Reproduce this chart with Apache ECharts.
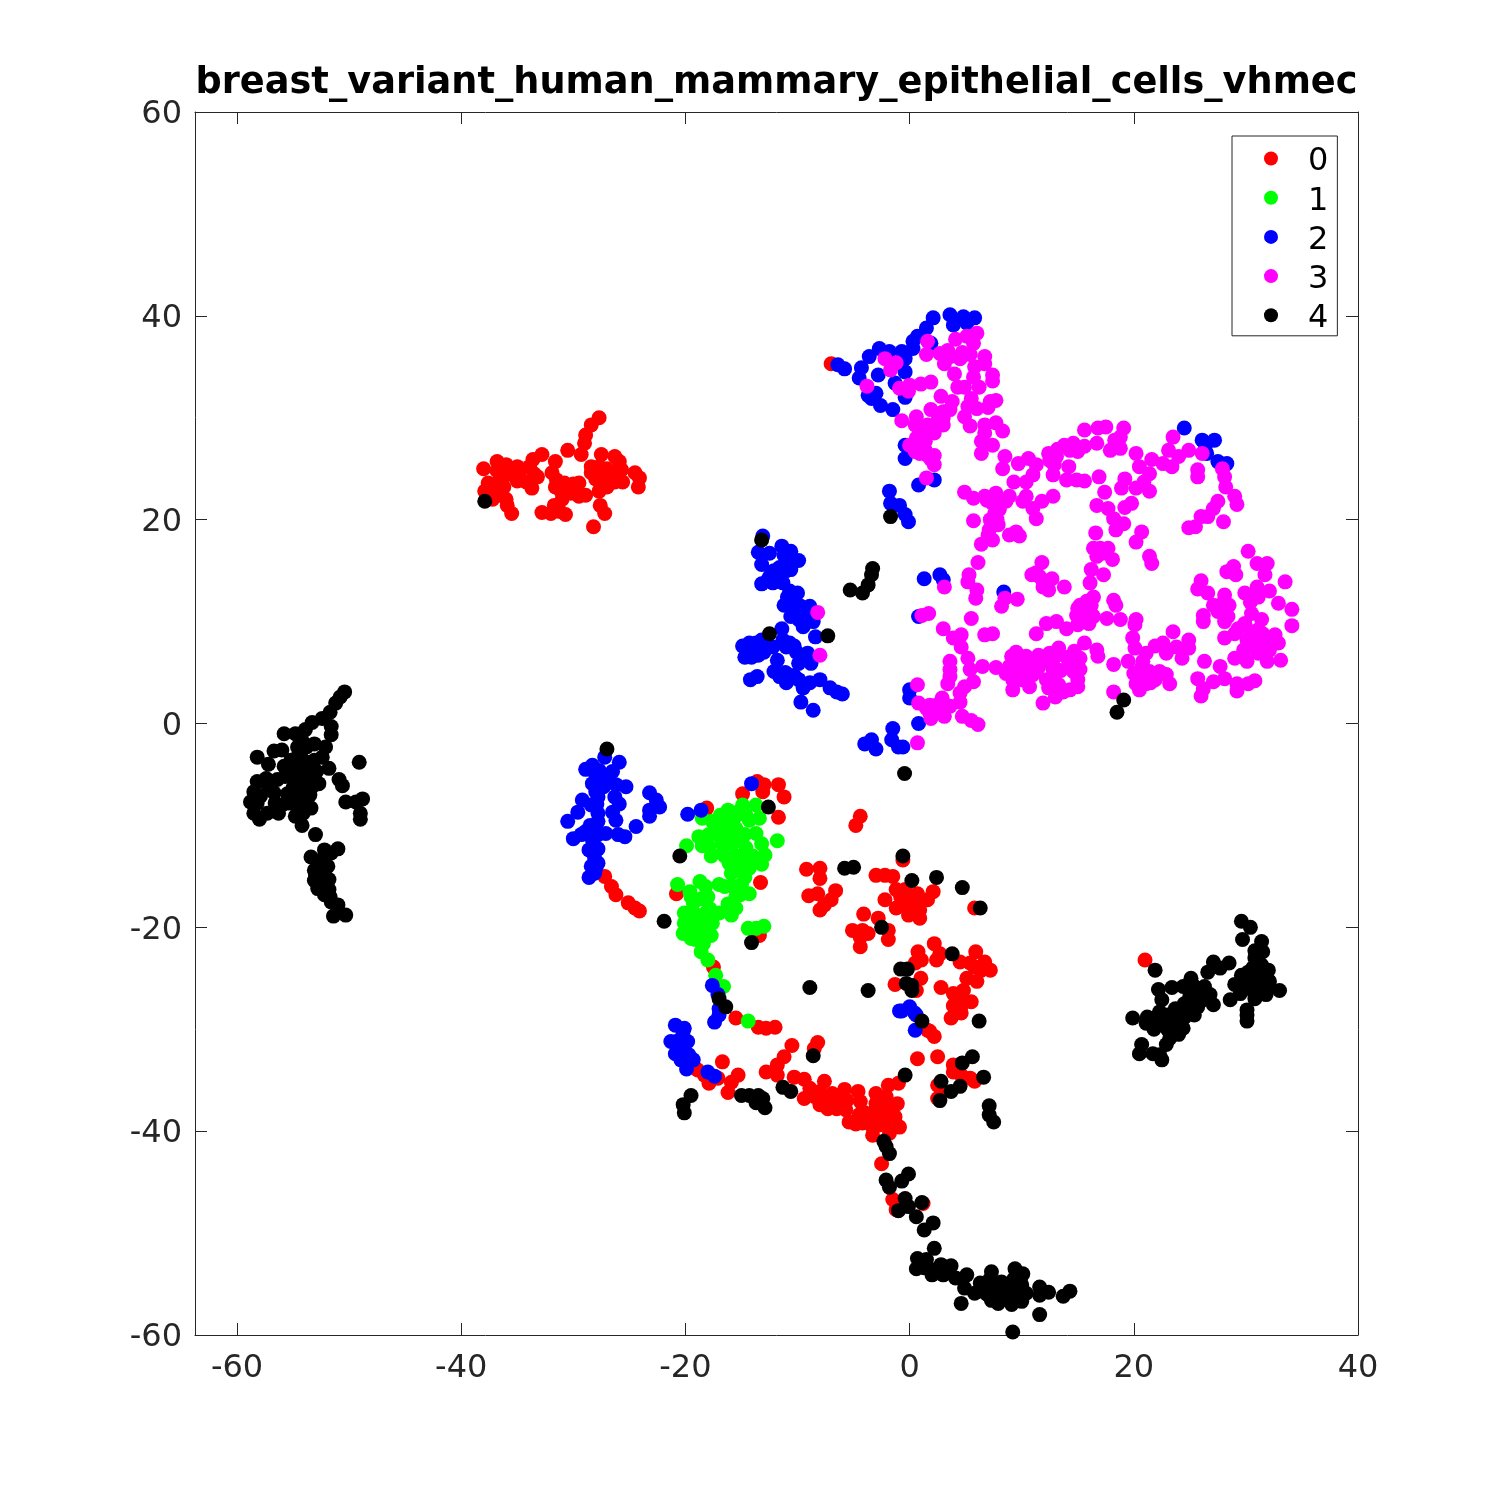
<!DOCTYPE html>
<html>
<head>
<meta charset="utf-8">
<style>html,body{margin:0;padding:0;background:#fff}#c{width:1500px;height:1500px}</style>
<script src="https://cdn.jsdelivr.net/npm/echarts@6/dist/echarts.min.js"></script>
</head>
<body>
<div id="c"></div>
<script>
const titleText = "breast_variant_human_mammary_epithelial_cells_vhmec";
const classNames = ["0","1","2","3","4"];
const classColors = ["#ff0000","#00ff00","#0000ff","#ff00ff","#000000"];
const xTicks = [-60,-40,-20,0,20,40];
const yTicks = [-60,-40,-20,0,20,40,60];

const class0 = [
[-7,35.3],
[-27.7,30],[-28.4,29.3],[-28.9,28.3],[-29,27.5],[-30.5,26.8],[-29.3,26.4],[-32.8,26.4],[-33.6,25.9],[-36.8,25.7],[-38,25],[-36,25.4],[-35,25.2],[-33.9,25.2],[-31.6,25.7],[-31.9,24.6],[-27.5,26.4],[-26.3,26.2],[-25.9,25.7],[-28.4,25.2],[-27.7,25.2],[-26.6,24.6],[-25.7,24.9],[-28.4,24.6],[-24.5,24.6],[-24.1,24.1],[-24.2,23.2],[-25.6,23.7],[-26.3,23.7],[-27.5,23.7],[-27.7,22.8],[-33.2,24.2],[-34.2,23.7],[-33.7,23.1],[-35.3,24.4],[-36.2,24.2],[-36.8,23.6],[-37.6,23.6],[-37.9,22.8],[-37.2,22],[-36.8,22.8],[-36,22],[-35.9,21.4],[-35.5,20.6],[-31.5,23.9],[-30.8,23.6],[-31.6,23.2],[-29.5,23.6],[-30.2,22.6],[-29.5,22.3],[-28.9,22.4],[-31.1,22.8],[-31.7,21.4],[-32.8,20.7],[-32,20.6],[-31.2,20.8],[-30.7,20.5],[-27.6,21.4],[-27.2,20.6],[-28.2,19.3],
[-27,25],[-35,23.8],[-33.5,24.5],[-30.5,23.2],[-31,22],[-30,23.5],[-27.2,24.3],[-36.2,23.2],[-34.7,24.9],[-36.8,24.8],[-27,23.2],[-28,24],[-26,24.1],
[-13.6,-5.7],[-13,-6],[-13.1,-6.7],[-11.7,-6],[-11.2,-7.2],[-14.9,-6.9],[-18.1,-8.3],[-11.7,-9.2],[-13.3,-15.6],[-20.8,-16.7],[-27.2,-15],[-26.6,-16],[-26.2,-16.8],[-25.1,-17.6],[-24.5,-18.1],[-24.1,-18.4],[-13.4,-20.8],[-17.5,-23.9],[-15.5,-28.9],[-13.5,-29.8],[-12.8,-29.9],[-12,-29.8],
[-10.5,-31.6],[-8.2,-31.3],[-8.5,-31.9],[-11.2,-32.7],[-11.8,-33.5],[-12.8,-34.2],[-11.8,-34.5],[-16.7,-33.2],[-15.3,-34.5],[-15.9,-35.2],[-16.2,-36.2],[-18.9,-34],[-18.3,-34.5],[-17.9,-35.3],[-17.1,-34.8],[-10.3,-34.7],[-9.4,-34.9],[-8.9,-35.8],[-7.6,-35.1],[-8,-36.1],[-9.4,-36.8],[-8.5,-36.6],[-8,-37.4],[-7.3,-37.8],[-6.7,-37.1],[-6.1,-36.9],[-5.8,-35.9],[-4.6,-36.1],[-4.4,-37.1],[-3,-36.3],[-1.9,-35.5],[-1,-35.3],[-2.1,-36.6],[-1.1,-37.3],[-3,-37.3],[-5.7,-37.9],[-5.4,-39.1],[-4.5,-38.4],[-3.7,-38.4],[-2.8,-38.4],[-2.1,-38.3],[-1.3,-38.6],[-4.2,-39.2],[-3.3,-39.6],[-2.7,-39.4],[-0.9,-39.6],[-1.8,-40.2],[-3.3,-40.4],[-2.5,-43.2],[-1.5,-46.7],[-1.2,-47.7],[1.2,-47.1],[1.8,-30.2],[2.2,-30.7],[0.7,-32.9],[2.5,-32.7],[3.9,-33.5],[3.9,-34.2],[4.6,-34.5],[5.8,-35.1],[5.4,-34.8],[2.5,-35.5],[3,-36.1],[2.5,-36.8],
[-7.5,-36.7],[-6.9,-36.3],[-5.6,-37],[-4,-38.2],[-3,-38.9],[-2,-39],[-3,-37.9],[-4,-39],[-1.5,-37.6],[-2.5,-36.9],[-2,-37.7],[-8.8,-36.2],[-7.3,-36.9],[-4.8,-39.3],[-6.5,-37.8],
[-4.4,-9.1],[-4.8,-10],[-9.2,-14.3],[-8,-14.2],[-8,-15.2],[-9,-16.9],[-8.2,-16.7],[-6.6,-16.4],[-7,-17.3],[-8,-18.3],[-3,-14.9],[-2.2,-14.9],[-1.5,-15],[-2.2,-17.3],[-1.2,-16.3],[-0.4,-16.3],[-1.2,-18.1],[-0.3,-17.3],[0.7,-16.7],[2.1,-16.5],[1.6,-17.3],[-0.1,-18.8],[0.9,-19.1],[0.9,-18.3],[-4.1,-18.7],[-2.8,-19.1],[-5.1,-20.3],[-3.7,-20.6],[-4.4,-21.9],[-1.9,-21.2],[-1.9,-20.3],[0.75,-22.4],[1.05,-23.2],[0.5,-23.5],[2.2,-21.6],[2.7,-22.6],[2.4,-23.2],[4.5,-23.4],[5.4,-23.5],[5.9,-22.4],[6.7,-23.4],[7.2,-24.2],[6.4,-24.2],[5.1,-25],[6,-25.3],[2.8,-25.9],[3.9,-26.5],[4.8,-26.2],[5.5,-27.3],[4.2,-27.3],[4.6,-28.4],[3.7,-28.9],[5.8,-18.1],[-1.3,-25.6],[1,-25],[0.6,-26.2],[1.6,-30.1],[-0.6,-13.4],
[0.2,-17.8],[-0.8,-17],[1,-17.5],[-0.6,-17.8],[5.8,-23.9],[4.5,-27],[4.5,-26.5],[3.9,-27.7],[4.6,-27.7],[-4.2,-20.3],[-4.4,-21],[-7.6,-17.8],
[21,-23.2]
];

const class1 = [
[-16.2,-8.5],[-14.9,-8],[-13.7,-8],[-15.2,-8.6],[-13.4,-9.3],[-18.5,-9.3],[-17.6,-9.6],[-16.4,-9.6],[-14.3,-9.5],[-17,-10.3],[-15.5,-10.3],[-18.8,-11.1],[-17.9,-10.9],[-13.7,-10.8],[-14.7,-10.9],[-11.8,-11.5],[-19.9,-12],[-17.9,-12.1],[-16.7,-11.8],[-15.8,-11.8],[-14.6,-12.2],[-13.2,-11.8],[-12.9,-12.9],[-17.7,-13],[-16.7,-12.7],[-15.5,-13],[-14.7,-13.2],[-13.2,-13.8],[-16.1,-13.7],[-14.3,-14.2],[-15.9,-14.7],[-14.7,-15.1],[-15.8,-16],[-14.3,-16.7],[-20.7,-15.8],[-18.7,-15.5],[-18.2,-16],[-17,-15.8],[-19.6,-16.5],[-18,-17],[-15.5,-17],[-19.3,-17.6],[-15.5,-18.1],[-15.9,-18.8],[-17,-18.6],[-20.1,-18.6],[-18.1,-18.5],[-19,-18.8],[-20.1,-19.6],[-17.6,-19.6],[-18.7,-19.6],[-20.2,-20.6],[-19.5,-21.1],[-18.7,-20.6],[-17.7,-20.8],[-19.1,-21.2],[-18.4,-21.6],[-14.4,-20.1],[-13.7,-20.1],[-13,-19.9],[-18.6,-22.4],[-18,-23.2],[-17.3,-24.7],[-16.6,-25.8],[-14.4,-29.2],
[-16,-10.8],[-15,-11.5],[-16.5,-13],[-15.2,-14],[-14,-13],[-16.9,-9],[-15.6,-9.2],[-14.6,-9],[-17,-11],[-18.5,-12],[-19.7,-19],[-19,-20],[-18,-19],[-19.5,-17],[-18.6,-17.2],[-17.8,-18.2],[-19.7,-20],[-18.2,-19.6],[-16.5,-16],[-15,-15.8],[-15.1,-16.8],[-16.2,-17.7]
];

const class2 = [
[2.1,39.8],[3.6,40.1],[3.9,39.1],[4.8,39.9],[5.1,39.3],[5.8,39.8],[1.5,38.8],[0.7,38],[0.3,37.5],[0.3,36.8],[1.9,37.3],[-2.7,36.8],[-3.6,36],[-0.7,36.5],[-0.4,35.8],[-1.8,36.5],[-4.3,34.9],[-2.8,34.2],[-0.4,34.5],[-4.5,33.9],[-1.3,33.4],[-3.7,32.2],[-3.4,31.9],[-3,32.4],[-0.4,32],[-2.6,31.2],[-1.5,30.8],[-6.4,35.2],[-5.8,34.8],[-0.4,27.3],[-0.4,26],[24.5,29],[26.1,27.8],[27.2,27.8],[26.4,27.3],[26.5,26.5],[27.5,25.7],[28.3,25.5],[-1.8,22.8],[-1.7,21.6],[-0.9,21.4],[-0.4,20.5],[-0.1,19.8],[0.8,23.4],[2.2,23.9],[1.3,14.2],[2.7,14.6],[3,14.1],[8.4,12.9],[0.8,10.5],[0,3.3],[0,2.5],[0.8,0],[-1.5,-0.5],[-1.6,-1.6],[-3.4,-1.6],[-4,-2],[-0.6,-2.3],[-3,-2.5],[-1,-2.3],
[-13.1,18.4],[-13.5,16.8],[-12.5,16.7],[-11.4,17.4],[-10.6,16.9],[-11.2,16.5],[-9.9,16],[-13.2,15.6],[-10.9,15.7],[-12.3,14.7],[-10.6,15.1],[-11.6,14.4],[-13.2,13.7],[-12.2,13.8],[-11.3,13.8],[-10.7,13],[-10,12.8],[-11.2,11.6],[-10.4,12.1],[-9.7,11.5],[-8.9,11.5],[-10.6,10.5],[-9.5,9.5],[-8.6,10],[-8.4,8.5],[-11.4,9.3],[-11.3,8.2],[-12.2,7.5],[-13.2,8.2],[-14.3,7.9],[-14.9,7.6],[-13.4,7.4],[-13.5,6.7],[-14.7,6.5],[-14.1,6.5],[-10.7,7.9],[-10.1,7],[-9.1,6.9],[-9.9,5.9],[-8.8,5.9],[-11.8,6.2],[-13.6,4.6],[-14.2,4.3],[-12.1,5.1],[-11,4.9],[-11.6,4.6],[-11,4],[-9.9,4.3],[-8.9,4],[-8,4.3],[-9.5,3.5],[-9.7,2.1],[-7.1,3.5],[-6.5,3.1],[-6,2.9],[-8.6,1.3],
[-12.1,15],[-11.6,15.3],[-11,15],[-12.5,14.4],[-12.7,14],[-10.9,12.4],[-10.5,11.2],[-9.9,10.8],[-9.2,10.5],[-9.9,10.2],[-10.4,11.5],[-13.7,7.9],[-14.4,6.9],[-13,7],[-11,7.5],[-10.3,7.6],[-11.1,5],[-10.3,4.7],
[-27.2,-3.3],[-25.9,-3.8],[-28.3,-4.1],[-28.9,-4.5],[-27.7,-4.6],[-26.5,-4.7],[-28.3,-5.9],[-27.5,-5.7],[-25.3,-6.2],[-26.2,-6],[-23.2,-6.8],[-29.2,-7.5],[-28.4,-8],[-27.8,-7.2],[-26.3,-7.2],[-25.9,-7.9],[-22.6,-7.5],[-22.3,-8.2],[-23.2,-9.1],[-23.2,-8.5],[-29.6,-8.7],[-30.5,-9.6],[-27.8,-8.8],[-26.5,-8.7],[-26.2,-9.5],[-27.8,-9.6],[-24.4,-10.1],[-28.9,-10.6],[-30,-11.3],[-29.3,-10.9],[-27.1,-10.8],[-26,-10.9],[-25.4,-11.1],[-28.3,-11.4],[-27.8,-12.3],[-28.6,-12.4],[-28.1,-13.2],[-28.4,-14],[-28,-14.2],[-28.6,-15.1],[-19.8,-8.9],[-18.6,-8.5],[-14.1,-5.9],[-17.6,-25.7],[-17.1,-26.6],[-17,-28],[-17,-28.6],[-17.4,-29.3],
[-28,-5],[-27.4,-5],[-27,-5.4],[-28,-6.7],[-27.3,-6.2],[-27.9,-7.9],[-28,-10.6],[-28.5,-10],[-27.8,-10.9],[-28.2,-12.7],[-27.8,-13.7],[-28.1,-14.7],
[-20.9,-29.6],[-20.2,-30.2],[-19.8,-31.2],[-21.3,-31.2],[-20.4,-31.2],[-20.9,-32.4],[-20.1,-32.5],[-19.3,-33],[-19.9,-33.9],[-18,-34.2],[-17.4,-34.6],[-0.7,-28.2],[0,-27.8],[0.6,-28.6],[0.5,-30.1],[-0.9,-28.2],[0.45,-28.4],
[-20.5,-31],[-20.6,-32],[-20.4,-33],[-19.7,-32.5],[-20.1,-29.9]
];

const class3 = [
[1.6,37.5],[4.1,37.7],[5.1,38],[6,38.3],[5.7,37.3],[1.5,36.2],[2.7,36.3],[3.6,36],[4.5,35.8],[5.4,36.2],[6.7,36],[3.1,35.3],[4,34.3],[5.8,35],[6.7,35.3],[5.7,34],[7.4,34.2],[7.4,33.6],[6.2,33],[4.9,33],[5.5,31.9],[2.8,32.1],[1.9,33.5],[1,33.3],[0,33.2],[-0.9,32.9],[-0.1,32.6],[-2.2,35.8],[-1.2,35.4],[-1.7,34.7],[-3.8,33.1],[7.7,31.7],[7.2,31.6],[7,31],[6,30.9],[5.2,31.1],[3.8,31.6],[1.9,30.8],[3,30.6],[3.6,30.8],[4.9,30.1],[5.4,29.2],[-0.7,29.7],[0.6,30.1],[0.5,29.3],[1.6,29.3],[3,29.3],[2.2,28.5],[1.4,28.8],[6.7,29.3],[7.7,29.5],[8.3,28.7],[6.7,28.5],[6.4,27.7],[7.4,27.3],[6.4,26.5],[8.5,26.2],[8.3,25],[0,27.3],[1.4,27.7],[0.6,28],[0.5,26.7],[1.6,26.3],[2.2,26.3],[2.2,25.4],[1.5,24.1],
[4.3,33],[3,30],[2.5,29.7],[2.2,29.2],[1,28.9],[0.8,27.2],[0.9,26.5],[1.4,26.8],[1.9,25.9],[3.4,36.6],[4.7,36.4],
[9.7,25.5],[10.6,26],[11.3,25.4],[11,24.4],[10.4,23.7],[9.3,23.7],[12.4,26.5],[13.1,26.2],[13.8,27.3],[14.6,27.5],[14.3,26.8],[15.6,27.2],[15,26.7],[14.2,25.2],[12.8,24.4],[14,23.9],[14.9,23.9],[15.6,23.8],[16.9,24.2],[15.6,28.8],[16.8,29],[17.5,29.1],[19.1,29],[16.7,27.5],[18.3,27.8],[18.8,28.1],[17.9,26.8],[18.8,27],[20.2,26.5],[21.6,25.9],[20.5,25.2],[22.6,25.5],[23.4,25.2],[21.4,24.5],[20.9,23.7],[20.2,23.1],[21.4,22.8],[19.2,24],[18.9,23.1],[23.5,28.1],[23.1,26.8],[24,26.2],[24.9,26.8],[26.1,26.5],[25.7,24.9],[25.7,24.2],[27.9,25],[28.1,24.2],[28.2,23.2],[29,22.3],[29.2,21.5],[27.5,21.8],[27.1,21.1],[26,20.3],[28,19.8],[24.9,19.2],[25.5,19.3],[26.6,20.3],
[13.2,26.9],[12.9,25.4],[12.5,25.8],
[4.9,22.7],[5.7,22.1],[6.7,22.3],[7.7,22.6],[7.4,21.6],[8.9,22.3],[8.6,21.8],[7.6,20.6],[5.7,19.9],[7.9,19.5],[7.1,19],[7.4,18],[6.4,17.6],[8.9,18.5],[9.5,18.8],[9.8,18.4],[10.4,22.3],[10.1,21.8],[11,21.1],[11.8,21.8],[11.3,20.1],[12.8,22.3],[17.4,22.7],[16.7,21.4],[17.7,21.1],[18.2,20.1],[18.4,19],[19.1,19.6],[19.2,21.2],[19.8,21.6],[20.7,18.8],[20.2,17.8],[16.6,18.7],[16.4,17.2],[17,17.2],[17.7,17.2],[16.7,16.4],[18.1,16.1],[16.2,15.1],[17.3,14.6],[16.1,13.8],[21.4,16.4],[21.6,15.7],[6.1,15.8],[5.3,14.6],[5.2,13.9],[6,13.1],[5.9,12.3],[11.8,15.8],[10.9,14.6],[11.6,14.4],[12.7,14.2],[11.9,13.4],[12.4,13.1],[13.8,13.4],[3.1,13.4],[9.6,12.2],[8.5,12.3],[8.2,11.5],[5.5,10.3],[1.1,10.6],[1.7,10.8],[3,9.3],[4.6,8.7],[3.9,8.4],[6.7,8.7],[7.4,8.8],[4.6,7.5],[5.2,6.4],[3.6,6.1],[3.6,5.3],[3.6,4.6],[3.4,3.9],[5.7,4.1],[4.9,3.6],[5.4,5.3],[6.5,5.6],[7.7,5.5],[4.5,3],[4.5,2.1],[0.7,3.8],[0.8,2],[1.5,1.5],[1.9,0.5],[2.4,1.8],[2.9,2.5],[3.1,0.7],[3.6,1.7],[2.7,1.2],[1.8,1],[4.7,0.7],[5.5,0.3],[6.1,-0.1],[0.7,-1.9],
[1.8,1.8],[2.3,1],[2,0.9],[2.8,1.9],[7.6,22],[8,21],[7.8,20],[7.2,20],[6.9,21.9],[7,18.5],[16.7,16.9],[17.2,16.7],[11.9,14],[11.3,14.8],
[16.4,12.4],[16.2,11.6],[15.2,11.6],[15.6,11],[16.4,10.5],[14.9,10.6],[13.1,10],[12.2,9.8],[11.3,8.8],[14,9.3],[15,9.7],[18.2,12.1],[18.4,11.6],[17.6,10.3],[18.8,10.2],[20.2,10.2],[20.1,9.7],[19.9,8.4],[20.1,7.4],[23.5,9],[22.6,7.9],[21.9,7.6],[24.9,8.2],[23.8,7.5],[24.9,7.4],[22.9,6.9],[24.3,6.4],[21.1,6.9],[20.8,6.1],[19.5,6.1],[18.2,5.8],[16.7,7.2],[16.8,6.6],[15.6,7.9],[14.7,7.1],[15.2,6.4],[13.3,7.4],[12.5,6.9],[11.5,6.7],[10.4,6.6],[9.5,7],[9.1,6.6],[8.9,5.6],[9.8,5.7],[10.7,5.9],[11.9,6.1],[12.8,5.7],[14.3,5.9],[14.6,5.1],[15,4.3],[15,3.6],[14.3,3.3],[13.7,3.1],[13,2.6],[11.9,2],[12.4,3.5],[12.8,4.4],[12.2,4.3],[12.8,5.3],[11.2,5.1],[10.4,4.8],[10.7,3.6],[9.2,3.3],[9.2,4.3],[8.6,4.9],[10,4.3],
[15.6,10.6],[15.3,10.3],[16.2,10.8],[16,9.8],[15,11.3],[15.8,12],[14,6.5],[13,6.6],[11.5,5.5],[10,5.2],[9.6,5],[11,4.8],[13.5,5.2],[13.3,3.8],[15.2,5.3],[14.8,6.5],
[20,4.9],[20.4,4.6],[21,4.9],[20.2,3.9],[21.4,5.1],[22.3,5.1],[22.9,4.8],[23.2,3.9],[21.9,4.3],[21.1,3.9],[20.5,3.3],[18.2,3.1],[25.7,4.4],[26.3,6.1],[27.7,5.6],[28.1,4.4],[27.1,4.1],[26.2,3.4],[26,2.7],[29.2,3.9],[29.2,3.2],[30.2,3.9],[30.8,4.2],
[21,4.5],[21.5,4],[20.7,5.5],[20.3,3.9],
[26,14],[25.7,13.2],[26.6,12.8],[28.3,14.9],[28.9,15.4],[29.1,14.6],[30.2,16.9],[31,15.7],[31.9,15.7],[31.7,14.6],[31,13.4],[33.5,13.9],[32.1,13],[32.9,11.8],[34.1,11.2],[34.1,9.6],[29.9,12.8],[31.1,12.4],[30.4,11.9],[30.5,10.8],[28.1,12.6],[27.1,11.6],[28.1,11.5],[27.5,11],[28.4,10.5],[26.2,10.6],[26.2,10],[28.1,10],[31.4,10.2],[29.9,9.8],[29.3,9.3],[31.1,9.2],[28.1,8.4],[29,8.8],[30.1,8.2],[32.6,8.7],[32.9,7.9],[31.6,8],[30.7,7.4],[32.1,7.2],[29.8,7.2],[29,6.4],[30.1,6.1],[31.9,6.1],[33.1,6.2],[31.1,6.9],
[28,11],[28,11.9],[28.5,11.6],[31.5,8.8],[31.2,8.3],[30.3,7.7],[30.7,8.5],[31.8,7.5],[31,7.3],[30.5,9],
[-8.2,10.9],[-8,6.7]
];

const class4 = [
[-3.3,15.2],[-3.4,14.6],[-3.7,13.6],[-5.3,13.1],[-4.2,12.8],[-1.7,20.3],[19.1,2.3],[18.5,1.1],[-13.2,18],[-12.5,8.8],[-7.3,8.6],[-37.9,21.8],[-0.45,-4.9],
[-50.4,3.1],[-50.8,2.6],[-51.2,2],[-51.7,1.1],[-52.4,0.5],[-53.3,0.1],[-53.9,-0.6],[-51.6,-0.3],[-51.6,-1.1],[-55.8,-1],[-54.8,-1],[-58.2,-3.3],[-53.1,-2],[-52.1,-2.3],[-56.7,-2.7],[-56,-2.6],[-57.2,-4],[-54.6,-2.3],[-54.3,-3.3],[-55.2,-3.6],[-55.8,-4.2],[-53.1,-3.6],[-52.4,-3.3],[-53.7,-4.2],[-54.6,-4.6],[-51.8,-4.4],[-49.1,-3.8],[-57.4,-5.4],[-56.4,-5.5],[-55.7,-5.2],[-58.2,-5.7],[-50.9,-5.5],[-50.6,-6.1],[-54,-5.5],[-52.7,-5.9],[-53.3,-6.2],[-54.2,-6.4],[-58.5,-6.7],[-57.9,-7.1],[-56.7,-6.8],[-55.5,-6.9],[-54.8,-7.2],[-58.8,-7.7],[-58.2,-7.8],[-56.6,-7.8],[-55.4,-7.8],[-54,-7.7],[-53.4,-8.3],[-58.5,-8.8],[-58,-9.4],[-57.3,-8.8],[-56.3,-8.8],[-54.6,-8.3],[-54.8,-9.1],[-54.2,-10],[-50.3,-7.7],[-48.8,-7.4],[-49.4,-7.7],[-49,-8.8],[-49,-9.4],[-53,-10.9],[-52.2,-12.4],[-51,-12.3],[-51.6,-12.7],[-53.4,-13.1],[-52.7,-13.7],[-53.1,-14.4],[-52.2,-14.5],[-51.8,-15.3],[-53.1,-15.4],[-52.5,-15.4],[-52.8,-16.2],[-51.8,-16.3],[-52.2,-16.8],[-51.6,-17.5],[-51,-17.8],[-51.4,-18.9],[-50.3,-18.8],
[-54.5,-3],[-53.8,-3.8],[-54.8,-5.5],[-53.5,-5],[-55,-6.3],[-53.5,-7],[-56,-8],[-55.2,-4.7],[-54.2,-1.7],[-52.9,-4.7],[-54.1,-8.8],[-57.2,-6.2],[-53.8,-2.3],[-52.3,-15.8],[-53,-14.9],[-52.3,-13.2],[-51.9,-14],[-51.7,-17],[-52.8,-15],
[21.9,-24.2],[29.6,-19.4],[30.4,-20],[29.7,-21.2],[31.4,-21.4],[31.5,-22.4],[30.8,-23],[27.1,-23.4],[28.5,-23.5],[27.7,-24],[26.6,-24.4],[31.4,-23.7],[32,-24.2],[30.2,-24.4],[31.1,-24.5],[29.6,-24.7],[29,-25.6],[30.2,-25.3],[31.4,-25.3],[32.1,-25.3],[29.5,-26.5],[30.7,-26.3],[31.8,-26.6],[33,-26.2],[28.6,-27.1],[30.8,-27],[30.1,-28.1],[30.1,-28.6],[30.1,-29.2],[25.1,-25],[25.3,-25.7],[24.4,-25.8],[23.4,-25.9],[22.2,-26.1],[22.5,-27.1],[26.3,-25.8],[26.8,-26.6],[26.2,-27.1],[27.1,-27.6],[24.8,-27.8],[25.7,-27.8],[25.4,-28.6],[23.7,-28],[22.3,-28.3],[19.9,-28.9],[21.2,-28.8],[21.1,-29.4],[21.8,-30],[23.7,-28.9],[24.55,-28.8],[23.4,-29.8],[24.4,-29.9],[24,-30.5],[23.2,-30.9],[22.9,-31.5],[20.7,-31.5],[20.5,-32.4],[21.7,-32.4],[22.5,-33],[22.3,-32.5],
[30.5,-25],[31,-26],[30,-26],[31.5,-24.8],[30.6,-24],[29.8,-25.7],[31.9,-25.8],[30.8,-22.3],[24.5,-27.5],[25.9,-26.8],[25,-26.8],[23,-28.6],[22.8,-29.5],[22,-28.8],[23,-30],[21.6,-29.2],
[-27,-2.5],[-12.6,-8.2],[-20.5,-13],[-21.9,-19.4],[-14.1,-21.5],[-8.9,-25.9],[-17,-27],[-16.4,-27.8],
[-19.5,-36.5],[-20.2,-37.4],[-20.1,-38.2],[-15,-36.5],[-14.3,-36.5],[-13.5,-36.5],[-13.1,-36.8],[-13.7,-37.2],[-12.9,-37.7],[-11.3,-35.7],[-10.6,-36.1],[-8.6,-32.6],[-0.4,-34.5],[-2.3,-41],[-2.1,-41.5],[-1.8,-42.2],[-0.1,-44.2],[-0.7,-44.9],[-2.1,-44.8],[-1.8,-45.5],[-0.4,-46.6],[1.1,-47],[-0.1,-47.4],[-1,-47.8],[0.6,-48.4],[2.1,-49],[1.3,-49.7],[2.2,-51.5],[0.7,-52.5],[1.5,-52.6],[0.6,-53.5],[2.8,-53.1],[3.7,-53.2],[2,-54.1],[3,-54.1],[5.1,-54.1],[4.1,-54.4],[4.9,-55.4],[7.3,-53.8],[5.8,-55.9],[6.3,-54.9],[7,-55.3],[9.4,-53.5],[10.1,-54],[4.6,-56.9],[7.3,-56.6],[7.9,-56.9],[8.2,-54.8],[9,-55.3],[10,-55.1],[8.3,-55.9],[9.4,-55.9],[10.4,-55.9],[9.1,-57],[10,-56.7],[11.6,-55.3],[11.6,-56.1],[12.4,-55.8],[13.7,-56.2],[14.3,-55.7],[11.6,-58],[9.2,-59.7],[1.1,-29.2],[6.2,-29.2],[5.6,-32.7],[4.7,-33.3],[6.6,-34.7],[2.8,-35.1],[3.7,-36.1],[4.5,-35.6],[2.7,-37],[7.1,-37.5],[7.1,-38.4],[7.5,-39.1],
[8.9,-56],[9,-56.5],[8.8,-55],[9.8,-55.5],[10,-56.1],[7.5,-55.6],[6.9,-56],[8.1,-56.4],[7.1,-54.6],[9.3,-54.5],[6.2,-55.7],[9.9,-54.8],[2.3,-53.6],[1.3,-53.4],
[-0.6,-13],[-5.8,-14.2],[-5,-14.1],[0.2,-15.4],[2.4,-15.1],[4.7,-16.1],[6.3,-18.1],[-2.5,-20],[3.8,-22.6],[-0.8,-24.1],[-0.2,-24.1],[-3.7,-26.2],[-0.3,-25.5],[0.2,-25.7],[0.2,-26.2]
];

const classData = [class0,class1,class2,class3,class4];
const axisInk = "#262626";
const FONT = "DejaVu Sans";
const chart = echarts.init(document.getElementById("c"), null, {renderer:"canvas"});

function xAxisOf(position, showLabels){
  return {type:"value",position,min:-63.75,max:40,scale:true,
    axisLine:{show:true,onZero:false,lineStyle:{color:axisInk,width:1}},
    axisTick:{show:true,inside:true,length:12,customValues:xTicks,lineStyle:{color:axisInk,width:1}},
    axisLabel:{show:showLabels,customValues:xTicks,color:axisInk,fontFamily:FONT,fontSize:32,margin:18,showMinLabel:true,showMaxLabel:true,hideOverlap:false},
    splitLine:{show:false}};
}
function yAxisOf(position, showLabels){
  return {type:"value",position,min:-60,max:60,interval:20,
    axisLine:{show:true,onZero:false,lineStyle:{color:axisInk,width:1}},
    axisTick:{show:true,inside:true,length:12,lineStyle:{color:axisInk,width:1}},
    axisLabel:{show:showLabels,color:axisInk,fontFamily:FONT,fontSize:32,margin:13,formatter:"{v|{value}}",
      rich:{v:{color:axisInk,fontFamily:FONT,fontSize:32,padding:[6,0,0,0]}},
      showMinLabel:true,showMaxLabel:true},
    splitLine:{show:false}};
}

chart.setOption({
  animation:false,
  backgroundColor:"#ffffff",
  title:{text:titleText,left:771.5,top:60,textAlign:"center",
    textStyle:{color:"#000",fontFamily:FONT,fontWeight:"bold",fontSize:36.7}},
  grid:{left:195,top:112,width:1163,height:1223,containLabel:false},
  xAxis:[xAxisOf("bottom",true),xAxisOf("top",false)],
  yAxis:[yAxisOf("left",true),yAxisOf("right",false)],
  legend:{orient:"vertical",left:1232,top:136,
    padding:[3,9,1,32],itemGap:0.2,itemWidth:14,itemHeight:14,
    backgroundColor:"#fff",borderColor:axisInk,borderWidth:1,
    icon:"circle",data:classNames,selectedMode:false,
    formatter:"{t|{name}}",
    textStyle:{color:"#000",fontFamily:FONT,fontSize:32,
      rich:{t:{color:"#000",fontFamily:FONT,fontSize:32,lineHeight:32,padding:[7,0,0,25]}}}},
  series:classNames.map((n,i)=>({name:n,type:"scatter",symbol:"circle",symbolSize:15,silent:true,
    itemStyle:{color:classColors[i],opacity:1},data:classData[i],clip:false,z:2+i}))
});
</script>
</body>
</html>
